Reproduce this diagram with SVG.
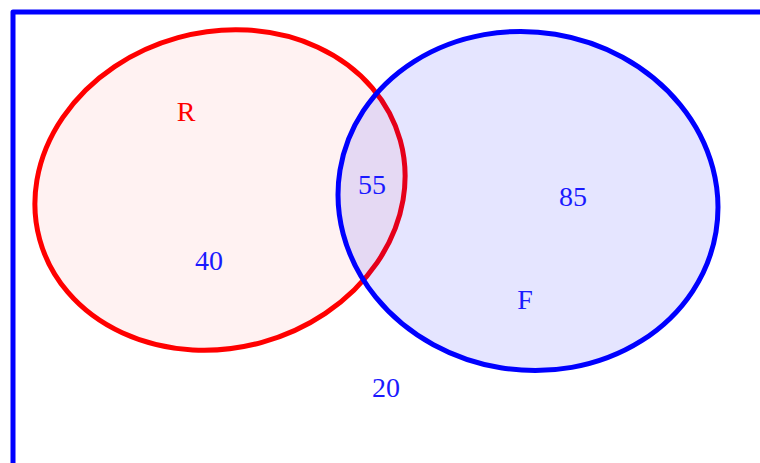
<svg xmlns="http://www.w3.org/2000/svg" width="760" height="463" viewBox="0 0 760 463">
<style>
.lbl{font-family:"Liberation Serif","DejaVu Serif",serif;font-size:28px;text-anchor:middle}
.b{fill:#1a1aff}
.r{fill:#ff0000}
</style>
<rect width="760" height="463" fill="#ffffff"/>
<g id="frame">
<path d="M13,463 L13,12 L760,12" fill="none" stroke="#0000ff" stroke-width="5" stroke-linejoin="round"/>
</g>
<g id="R">
<ellipse cx="220" cy="190" rx="187" ry="158" transform="rotate(-15.4 220 190)" fill="#ff0000" fill-opacity="0.05" stroke="#ff0000" stroke-width="5"/>
<text class="lbl r" x="186" y="121">R</text>
</g>
<g id="F">
<ellipse cx="528" cy="201" rx="190.5" ry="169" transform="rotate(9.3 528 201)" fill="#0000ff" fill-opacity="0.1" stroke="#0000ff" stroke-width="5"/>
<text class="lbl b" x="525" y="309">F</text>
</g>
<g id="labels">
<text class="lbl b" x="372" y="194">55</text>
<text class="lbl b" x="573" y="206">85</text>
<text class="lbl b" x="209" y="270">40</text>
<text class="lbl b" x="386" y="397">20</text>
</g>
<g id="connectors"/>
</svg>
